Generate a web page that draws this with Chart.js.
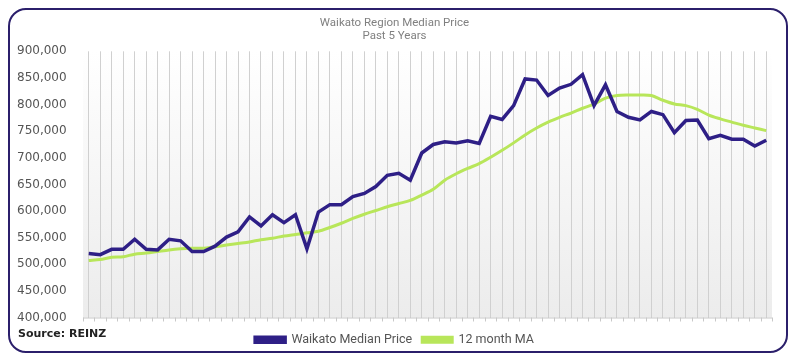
<!DOCTYPE html>
<html>
<head>
<meta charset="utf-8">
<script src="https://cdn.jsdelivr.net/npm/chart.js@4"></script>
<style>
  html, body { margin: 0; padding: 0; background: #fff; }
  #wrap { position: relative; width: 795px; height: 358px; }
  #chartPreco { position: absolute; left: 0; top: 0; }
  #moldura {
    position: absolute; left: 8px; top: 8px; width: 776px; height: 341px;
    border: 2px solid #2b1f6b; border-radius: 18px; pointer-events: none;
  }
  #fonte {
    position: absolute; left: 18px; top: 327px;
    font: bold 11px "DejaVu Sans", sans-serif; color: #222;
  }
</style>
</head>
<body>
<div id="wrap">
  <canvas id="chartPreco" width="795" height="358"></canvas>
  <div id="moldura"></div>
  <div id="fonte">Source: REINZ</div>
</div>
<script>
// Meses (Set 2018 - Ago 2023)
const meses = [
  'Sep-18','Oct-18','Nov-18','Dec-18','Jan-19','Feb-19','Mar-19','Apr-19','May-19','Jun-19',
  'Jul-19','Aug-19','Sep-19','Oct-19','Nov-19','Dec-19','Jan-20','Feb-20','Mar-20','Apr-20',
  'May-20','Jun-20','Jul-20','Aug-20','Sep-20','Oct-20','Nov-20','Dec-20','Jan-21','Feb-21',
  'Mar-21','Apr-21','May-21','Jun-21','Jul-21','Aug-21','Sep-21','Oct-21','Nov-21','Dec-21',
  'Jan-22','Feb-22','Mar-22','Apr-22','May-22','Jun-22','Jul-22','Aug-22','Sep-22','Oct-22',
  'Nov-22','Dec-22','Jan-23','Feb-23','Mar-23','Apr-23','May-23','Jun-23','Jul-23','Aug-23'
];

// Preço mediano Waikato
const precoMediano = [
  520000, 518000, 528000, 528000, 547000, 528000, 527000, 547000, 544000, 524000,
  524000, 534000, 551000, 561000, 589000, 572000, 593000, 578000, 593000, 529000,
  598000, 612000, 612000, 627000, 633000, 646000, 667000, 671000, 658000, 709000,
  725000, 730000, 728000, 732000, 727000, 778000, 772000, 798000, 848000, 846000,
  817000, 831000, 838000, 856000, 798000, 837000, 787000, 776000, 771000, 787000,
  781000, 747000, 770000, 771000, 736000, 742000, 735000, 735000, 722000, 733000
];

// Média móvel 12 meses
const mediaMovel = [
  507000, 509000, 513000, 514000, 519000, 521000, 524000, 527000, 529000, 530000,
  530000, 533000, 536000, 539000, 542000, 546000, 549000, 553000, 556000, 559000,
  562000, 569000, 577000, 586000, 594000, 601000, 608000, 614000, 620000, 630000,
  641000, 658000, 670000, 680000, 689000, 701000, 714000, 728000, 743000, 756000,
  767000, 776000, 784000, 793000, 801000, 812000, 817000, 818000, 818000, 817000,
  808000, 801000, 798000, 791000, 780000, 773000, 767000, 761000, 756000, 751000
];

const corNavy = '#2e1f86';
const corVerde = '#b8e65a';

// Fundo com degradê + marcas do eixo x
const fundoPlugin = {
  id: 'fundo',
  beforeDraw(chart) {
    const { ctx, chartArea: a } = chart;
    const g = ctx.createLinearGradient(0, a.top, 0, a.bottom);
    g.addColorStop(0, '#ffffff');
    g.addColorStop(1, '#ececec');
    ctx.save();
    ctx.fillStyle = g;
    ctx.fillRect(a.left, a.top, a.right - a.left, a.bottom - a.top);
    ctx.restore();
  },
  afterDatasetsDraw(chart) {
    const { ctx, chartArea: a, scales } = chart;
    const x = scales.x;
    const n = meses.length;
    const passo = (a.right - a.left) / n;
    ctx.save();
    ctx.strokeStyle = '#c8c8c8';
    ctx.lineWidth = 1;
    ctx.beginPath();
    ctx.moveTo(a.left, a.bottom + 0.5);
    ctx.lineTo(a.right, a.bottom + 0.5);
    for (let i = 0; i <= n; i++) {
      const px = Math.round(x.left + i * passo) + 0.5;
      ctx.moveTo(px, a.bottom);
      ctx.lineTo(px, a.bottom + 4);
    }
    ctx.stroke();
    ctx.restore();
  }
};

new Chart(document.getElementById('chartPreco'), {
  type: 'line',
  data: {
    labels: meses,
    datasets: [{
      label: 'Waikato Median Price',
      data: precoMediano,
      borderColor: corNavy,
      backgroundColor: corNavy,
      borderWidth: 3.5,
      pointRadius: 0,
      tension: 0
    }, {
      label: '12 month MA',
      data: mediaMovel,
      borderColor: corVerde,
      backgroundColor: corVerde,
      borderWidth: 3,
      pointRadius: 0,
      tension: 0.3
    }]
  },
  options: {
    responsive: false,
    animation: false,
    layout: { padding: { left: 17, right: 23, top: 17, bottom: 2 } },
    plugins: {
      title: {
        display: true,
        text: ['Waikato Region Median Price', 'Past 5 Years'],
        color: '#808080',
        font: { family: 'Roboto', size: 11.5, weight: 'normal', lineHeight: 1.1 },
        padding: { top: 0, bottom: 9 }
      },
      legend: {
        position: 'bottom',
        labels: {
          boxWidth: 30,
          boxHeight: 5,
          color: '#555',
          font: { family: 'Roboto', size: 12.5 },
          padding: 10
        }
      },
      tooltip: { enabled: false }
    },
    scales: {
      x: {
        offset: true,
        grid: { display: true, offset: false, color: '#d0d0d0', drawTicks: false },
        border: { display: false },
        ticks: { display: false },
        afterFit: function(scale) { scale.height = 6; }
      },
      y: {
        min: 400000,
        max: 900000,
        grid: { display: false, drawTicks: false },
        border: { display: false },
        afterFit: function(scale) { scale.width = 66; },
        ticks: {
          stepSize: 50000,
          crossAlign: 'far',
          padding: 14,
          color: '#555',
          font: { family: 'DejaVu Sans', size: 12 },
          callback: function(value) {
            return value.toLocaleString('en-US');
          }
        }
      }
    }
  },
  plugins: [fundoPlugin]
});
</script>
</body>
</html>
